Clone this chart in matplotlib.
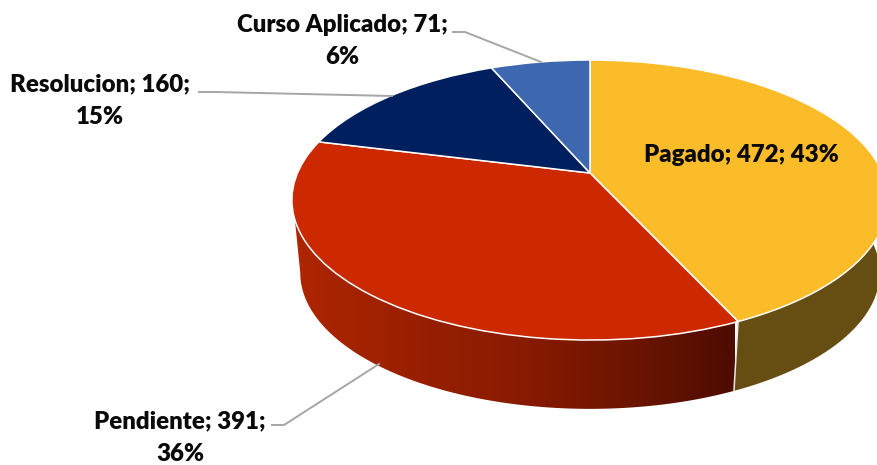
import numpy as np
import matplotlib
matplotlib.use("Agg")
import matplotlib.pyplot as plt
from matplotlib.colors import LinearSegmentedColormap
from matplotlib.patches import Polygon
from matplotlib.transforms import Transform

categories = ["Pagado", "Pendiente", "Resolucion", "Curso Aplicado"]
values = [472, 391, 160, 71]
percents = [43, 36, 15, 6]
top_colors = ["#FBBC2A", "#CC2900", "#001F5F", "#3D68B0"]
yellow_wall = "#664E12"
red_wall_stops = ["#AE2600", "#9A2000", "#8A1B00", "#6E1500", "#4E0C00"]
label_boxes = [(741, 155), (180, 438), (100, 101), (342, 41)]
line_breaks = [False, True, True, True]
leaders = {
    "Curso Aplicado": ([453, 465, 541], [32, 32, 62]),
    "Resolucion": ([199, 215, 392], [92, 92, 96]),
    "Pendiente": ([272, 284, 379], [425, 425, 364]),
}

CX, CY, F, A, K = 590.0, 173.0, 292.5, 134.8, 0.193
SHRINK, DEPTH = 0.972, 73.5


def project(x, y):
    d = 1 + K * y
    return F * x / d, -A * y / d


class Perspective(Transform):
    input_dims = 2
    output_dims = 2
    has_inverse = False
    is_affine = False

    def transform_non_affine(self, pts):
        pts = np.asarray(pts, dtype=float)
        X, Y = project(pts[:, 0], pts[:, 1])
        return np.column_stack([CX + X, CY + Y])


def rim(theta_deg, lower=False):
    t = np.radians(theta_deg)
    X, Y = project(np.sin(t), np.cos(t))
    if lower:
        return CX + SHRINK * X, CY + SHRINK * Y + DEPTH
    return CX + X, CY + Y


def wall_poly(t0_top, t1_top, t0_low, t1_low):
    tt = np.linspace(t0_top, t1_top, 200)
    tl = np.linspace(t1_low, t0_low, 200)
    xt, yt = rim(tt)
    xl, yl = rim(tl, lower=True)
    return np.column_stack([np.r_[xt, xl], np.r_[yt, yl]])


fig = plt.figure(figsize=(8.77, 4.65), dpi=100)
ax = fig.add_axes([0, 0, 1, 1])

# side walls
split = 360.0 * values[0] / sum(values)
ax.fill(*wall_poly(80, split, 80, split).T, color=yellow_wall, lw=0, zorder=1)

cmap = LinearSegmentedColormap.from_list("redwall", red_wall_stops)
im = ax.imshow(np.linspace(0, 1, 256)[None, :], cmap=cmap, aspect="auto",
               extent=(295, 735, 420, 150), zorder=1, interpolation="bilinear")
clip = Polygon(wall_poly(split, 251, split, 259), closed=True, transform=ax.transData)
im.set_clip_path(clip)

bx, by = rim(split, lower=True)
tx, ty = rim(split)
ax.plot([tx, bx], [ty, by], color="#E8E8E8", lw=1.1, zorder=2)

# top face
wedges, _ = ax.pie(values, colors=top_colors, startangle=90, counterclock=False,
                   radius=1, wedgeprops={"edgecolor": "white", "linewidth": 1.1})
persp = Perspective() + ax.transData
for w in wedges:
    w.set_transform(persp)
    w.set_zorder(3)

for name, (lx, ly) in leaders.items():
    ax.plot(lx, ly, color="#A6A6A6", lw=1.4, zorder=4, solid_joinstyle="round")

for c, v, p, (x, y), br in zip(categories, values, percents, label_boxes, line_breaks):
    sep = "\n" if br else " "
    ax.text(x, y, f"{c}; {v};{sep}{p}%", ha="center", va="center", family="Lato",
            fontweight="heavy", fontsize=17.3, color="#0A0A0A", linespacing=1.6, zorder=5)

ax.set_aspect("auto")
ax.set_xlim(0, 877)
ax.set_ylim(465, 0)
ax.axis("off")
fig.savefig("out.png", dpi=100, facecolor="white")
